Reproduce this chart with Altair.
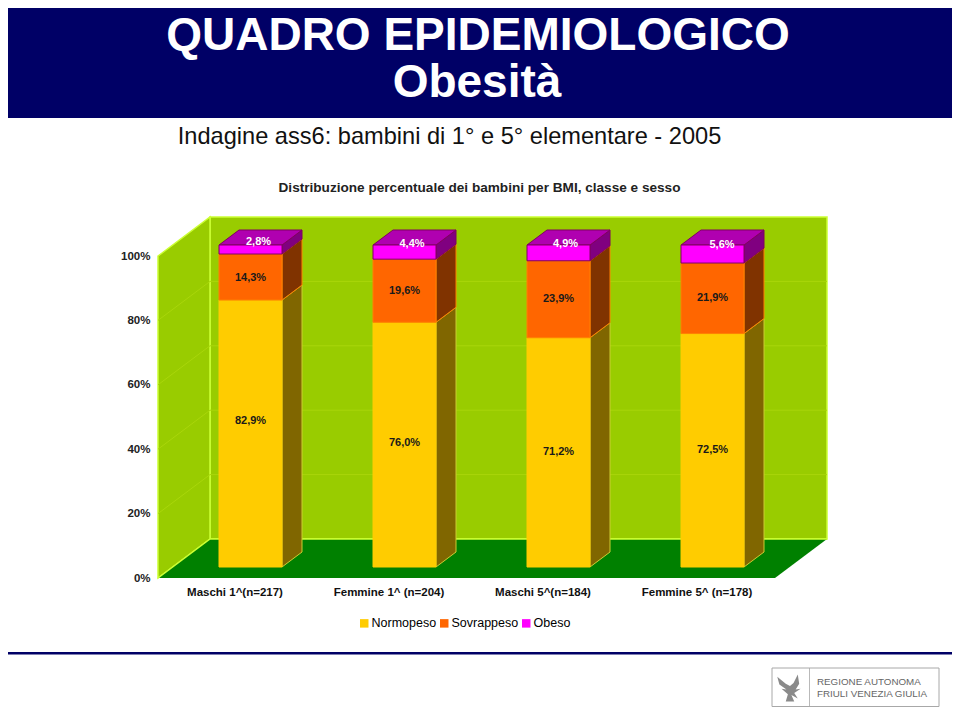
import altair as alt
import pandas as pd

categories = ["Maschi 1^(n=217)", "Femmine 1^ (n=204)", "Maschi 5^(n=184)", "Femmine 5^ (n=178)"]
normopeso = [82.9, 76.0, 71.2, 72.5]
sovrappeso = [14.3, 19.6, 23.9, 21.9]
obeso = [2.8, 4.4, 4.9, 5.6]
series_names = ["Normopeso", "Sovrappeso", "Obeso"]
y_ticks = [0, 20, 40, 60, 80, 100]

FONT = "Liberation Sans"
front_cols = ["#FFCC00", "#FF6600", "#FF00FF"]
side_cols = ["#806600", "#803300", "#800080"]
edge_cols = ["#FFCC00", "#FF8000", "#800060"]
side_edges = ["#CCCC33", "#FF8000", "#800060"]
TOP_COL = "#B000B0"
WALL, WALL_EDGE, GRID, FLOOR = "#99CC00", "#CCFF33", "#A9D60A", "#008000"

# Scales: one x unit = one category step, one y unit = one percentage point
PW, PH = 944, 699
XU, YU = 154.0, 3.22
X0, Y0 = 211.0, 570.0
xscale = alt.Scale(domain=[-X0 / XU, (PW - X0) / XU], nice=False, zero=False)
yscale = alt.Scale(domain=[(Y0 - PH) / YU, Y0 / YU], nice=False, zero=False)
yaxis = alt.Axis(values=y_ticks, labelExpr="datum.value + '%'", domain=False, ticks=False, grid=False,
                 tickSize=0, labelPadding=0, offset=-142, title=None, labelFont=FONT, labelFontSize=11.5,
                 labelFontWeight="bold", labelColor="#222222")

def X(f): return alt.X(f, type="quantitative", scale=xscale, axis=None)
def Y(f): return alt.Y(f, type="quantitative", scale=yscale, axis=yaxis)

# 3-D projection in data units
WALL_DX, WALL_DY = 52 / XU, 39 / YU
BAR_DX, BAR_DY = 20 / XU, 15 / YU
BAR_LEFT, BAR_W = 0.0, 63 / XU
BAR_BASE = 11 / YU
FLOOR_LEFT, FLOOR_RIGHT = (158 - 219) / XU, (775 - 219) / XU

side_rows, top_rows, front_rows, lab_rows = [], [], [], []
label_shift = {  # (px right, px up) from the middle of each segment
    (0, 0): (0, 12.5), (1, 0): (0, 1.5), (2, 0): (0, 0), (3, 0): (0, 0),
    (0, 1): (0, -1), (1, 1): (0, 0), (2, 1): (0, 0), (3, 1): (0, 0),
    (0, 2): (8, 7.5), (1, 2): (7.5, 8), (2, 2): (7, 9), (3, 2): (9.5, 9),
}
for i, cat in enumerate(categories):
    base = BAR_BASE
    L, R = i + BAR_LEFT, i + BAR_LEFT + BAR_W
    for s, vals in enumerate([normopeso, sovrappeso, obeso]):
        lo, hi = base, base + vals[i]
        front_rows.append(dict(x=L, x2=R, y=lo, y2=hi, series=series_names[s], st=edge_cols[s]))
        for k in (0, 1):
            side_rows.append(dict(x=R + k * BAR_DX, y=lo + k * BAR_DY, y2=hi + k * BAR_DY,
                                  face=f"{i}-{s}", f=side_cols[s], st=side_edges[s]))
        dx, dy = label_shift[(i, s)]
        lab_rows.append(dict(x=(L + R) / 2 + dx / XU, y=(lo + hi) / 2 + dy / YU,
                             label=f"{vals[i]:.1f}%".replace(".", ","),
                             col="#FFFFFF" if s == 2 else "#1A1A1A"))
        base = hi
    for k in (0, 1):
        top_rows.append(dict(y=base + k * BAR_DY, x=L + k * BAR_DX, x2=R + k * BAR_DX,
                             face=str(i), f=TOP_COL, st="#800060"))

one = pd.DataFrame([{"a": 0}])

def box(px0, py0, px1, py1, fill, stroke=None, sw=0):
    kw = dict(fill=fill)
    if stroke:
        kw.update(stroke=stroke, strokeWidth=sw)
    return alt.Chart(one).mark_rect(**kw).encode(
        x=alt.value(px0 - 8), x2=alt.value(px1 - 8), y=alt.value(py0 - 8), y2=alt.value(py1 - 8))

def txt(s, px, py, size, color="#000000", weight="normal", align="center", font=FONT):
    return alt.Chart(one).mark_text(text=s, font=font, fontSize=size, fontWeight=weight, color=color,
                                    align=align, baseline="middle").encode(
        x=alt.value(px - 8), y=alt.value(py - 8))

# Walls and floor
wall_back = alt.Chart(pd.DataFrame([dict(x=FLOOR_LEFT + WALL_DX, x2=FLOOR_RIGHT + WALL_DX,
                                         y=WALL_DY, y2=WALL_DY + 100)])).mark_rect(
    fill=WALL, stroke=WALL_EDGE, strokeWidth=1.5).encode(x=X("x"), x2="x2", y=Y("y"), y2="y2")
wall_side = alt.Chart(pd.DataFrame([dict(x=FLOOR_LEFT, y=0, y2=100),
                                    dict(x=FLOOR_LEFT + WALL_DX, y=WALL_DY, y2=WALL_DY + 100)])).mark_area(
    fill=WALL, stroke=WALL_EDGE, strokeWidth=1.5).encode(x=X("x"), y=Y("y"), y2="y2")
floor = alt.Chart(pd.DataFrame([dict(y=0, x=FLOOR_LEFT, x2=FLOOR_RIGHT),
                                dict(y=WALL_DY, x=FLOOR_LEFT + WALL_DX, x2=FLOOR_RIGHT + WALL_DX)])).mark_area(
    orient="horizontal", fill=FLOOR).encode(y=Y("y"), x=X("x"), x2="x2")
floor_edge = alt.Chart(pd.DataFrame([dict(x=FLOOR_LEFT + WALL_DX, x2=FLOOR_RIGHT + WALL_DX, y=WALL_DY)])).mark_rule(
    color=WALL_EDGE, strokeWidth=1.5).encode(x=X("x"), x2="x2", y=Y("y"))
floor_edge2 = alt.Chart(pd.DataFrame([dict(x=FLOOR_LEFT, y=0), dict(x=FLOOR_LEFT + WALL_DX, y=WALL_DY)])).mark_line(
    color=WALL_EDGE, strokeWidth=1.5).encode(x=X("x"), y=Y("y"))

grid_back = alt.Chart(pd.DataFrame([dict(x=FLOOR_LEFT + WALL_DX, x2=FLOOR_RIGHT + WALL_DX, y=t + WALL_DY)
                                    for t in y_ticks[1:-1]])).mark_rule(color=GRID, strokeWidth=1).encode(
    x=X("x"), x2="x2", y=Y("y"))
grid_side = alt.Chart(pd.DataFrame([dict(x=FLOOR_LEFT + k * WALL_DX, y=t + k * WALL_DY, t=t)
                                    for t in y_ticks[1:-1] for k in (0, 1)])).mark_line(
    color=GRID, strokeWidth=1).encode(x=X("x"), y=Y("y"), detail="t:N")

# Bars
sides = alt.Chart(pd.DataFrame(side_rows)).mark_area(strokeWidth=1).encode(
    x=X("x"), y=Y("y"), y2="y2", detail="face:N",
    fill=alt.Fill("f:N", scale=None), stroke=alt.Stroke("st:N", scale=None))
tops = alt.Chart(pd.DataFrame(top_rows)).mark_area(orient="horizontal", strokeWidth=1).encode(
    y=Y("y"), x=X("x"), x2="x2", detail="face:N",
    fill=alt.Fill("f:N", scale=None), stroke=alt.Stroke("st:N", scale=None))
fronts = alt.Chart(pd.DataFrame(front_rows)).mark_rect(strokeWidth=1).encode(
    x=X("x"), x2="x2", y=Y("y"), y2="y2",
    color=alt.Color("series:N", scale=alt.Scale(domain=series_names, range=front_cols), sort=series_names,
                    legend=alt.Legend(orient="none", legendX=350, legendY=609, direction="horizontal",
                                      columns=3, title=None, symbolType="square", symbolSize=72,
                                      symbolStrokeWidth=0, labelFont=FONT, labelFontSize=12.5,
                                      labelColor="#000000", columnPadding=1, labelOffset=1,
                                      padding=0, symbolOpacity=1)),
    stroke=alt.Stroke("st:N", scale=None))
labels = alt.Chart(pd.DataFrame(lab_rows)).mark_text(font=FONT, fontSize=11, fontWeight="bold", baseline="middle").encode(
    x=X("x"), y=Y("y"), text="label:N", color=alt.value("#1A1A1A"),
    fill=alt.Fill("col:N", scale=None))
cat_labels = alt.Chart(pd.DataFrame([dict(x=i + 16 / XU, y=(578 - 593) / YU, label=c)
                                     for i, c in enumerate(categories)])).mark_text(
    font=FONT, fontSize=11.5, fontWeight="bold", baseline="middle", color="#111111").encode(
    x=X("x"), y=Y("y"), text="label:N")

eagle_path = ("M-0.9,-0.8 L-0.3,-0.3 L0,-0.15 L0.25,-0.35 L0.55,-0.95 L0.65,-0.3 L0.4,0.1 L0.75,0.05 L0.3,0.35 "
              "L0.55,0.75 L0.1,0.5 L0.3,0.95 L-0.3,0.95 L-0.15,0.45 L-0.6,0.05 L-0.25,0.1 L-0.75,-0.25 Z")
eagle = alt.Chart(one).mark_point(shape=eagle_path, filled=True, color="#8A8A8A", size=800, opacity=1).encode(
    x=alt.value(790 - 8), y=alt.value(688 - 8))

chart = alt.layer(
    box(1, 1, 955, 118, "#000066"),
    txt("QUADRO EPIDEMIOLOGICO", 478, 36, 46, "#FFFFFF", "bold"),
    txt("Obesità", 477, 83, 46, "#FFFFFF", "bold"),
    txt("Indagine ass6: bambini di 1° e 5° elementare - 2005", 449.5, 137, 23.6, "#111111"),
    txt("Distribuzione percentuale dei bambini per BMI, classe e sesso", 479.5, 187.5, 13.6, "#222222", "bold"),
    wall_back, wall_side, floor, floor_edge, floor_edge2, grid_back, grid_side,
    sides, tops, fronts, labels, cat_labels,
    box(0, 652, 955, 654.5, "#000066"),
    box(772, 668, 939, 706.5, "#FFFFFF", "#A8A8A8", 1),
    box(809, 668, 809.8, 706.5, "#A8A8A8"),
    eagle,
    txt("REGIONE AUTONOMA", 817, 682, 9.8, "#666666", "normal", "left"),
    txt("FRIULI VENEZIA GIULIA", 817, 693.5, 9.8, "#666666", "normal", "left"),
).properties(width=PW, height=PH, padding=0,
             autosize=alt.AutoSizeParams(type="none"), background="#FFFFFF"
).configure_view(stroke=None)

chart.save("out.html", embed_options={"renderer": "svg", "actions": False})
